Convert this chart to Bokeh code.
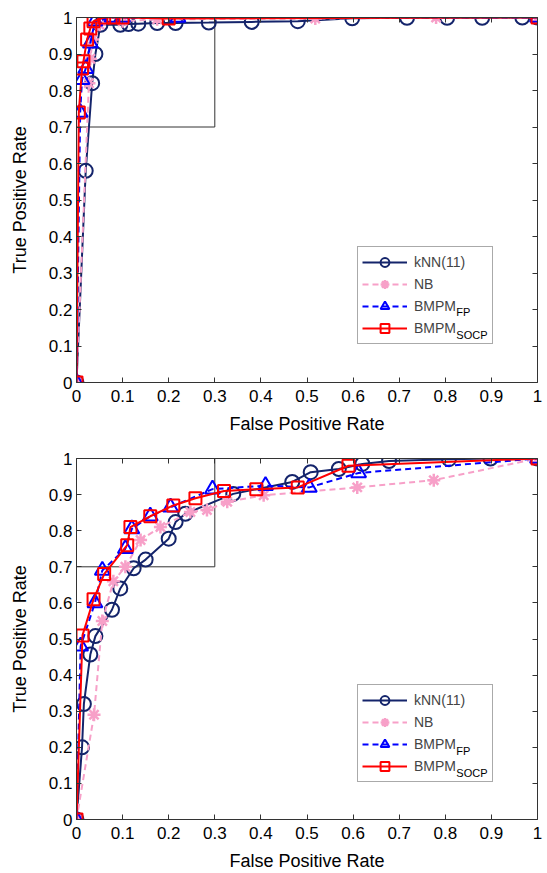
from bokeh.plotting import figure
from bokeh.models import (Range1d, FixedTicker, LinearAxis, Legend, LegendItem,
                          BoxAnnotation, Label)
from bokeh.layouts import column
from bokeh.embed import file_html
from bokeh.resources import INLINE

# ---------------- data ----------------
tick_vals = [0, 0.1, 0.2, 0.3, 0.4, 0.5, 0.6, 0.7, 0.8, 0.9, 1.0]
tick_labels = ["0", "0.1", "0.2", "0.3", "0.4", "0.5", "0.6", "0.7", "0.8", "0.9", "1"]

series_labels = ["kNN(11)", "NB", "BMPM", "BMPM"]
series_subscripts = ["", "", "FP", "SOCP"]
x_title = "False Positive Rate"
y_title = "True Positive Rate"
zoom_box = [0.0, 0.3, 0.7, 1.0]  # left, right, bottom, top

# top panel
knn1_x = [0, 0.02, 0.034, 0.041, 0.052, 0.095, 0.113, 0.134, 0.175, 0.215, 0.287, 0.38, 0.48,
          0.598, 0.717, 0.804, 0.88, 0.967, 1.0]
knn1_y = [0, 0.58, 0.82, 0.90, 0.98, 0.98, 0.982, 0.983, 0.985, 0.985, 0.986, 0.988, 0.99,
          0.998, 0.999, 0.999, 0.999, 1.0, 1.0]
nb1_x = [0, 0.027, 0.03, 0.035, 0.05, 0.1, 0.175, 0.518, 0.78, 1.0]
nb1_y = [0, 0.82, 0.887, 0.94, 0.98, 0.99, 0.995, 0.997, 1.0, 1.0]
fp1_x = [0, 0.008, 0.012, 0.02, 0.03, 0.04, 0.077, 0.1, 0.22, 1.0]
fp1_y = [0, 0.74, 0.83, 0.86, 0.93, 0.99, 1.0, 1.0, 1.0, 1.0]
socp1_x = [0, 0.005, 0.012, 0.015, 0.023, 0.03, 0.037, 0.06, 0.08, 0.1, 0.2, 1.0]
socp1_y = [0, 0.74, 0.86, 0.88, 0.94, 0.97, 0.99, 1.0, 1.0, 1.0, 0.997, 1.0]

# bottom panel
knn2_x = [0, 0.012, 0.016, 0.03, 0.041, 0.077, 0.095, 0.124, 0.15, 0.2, 0.215, 0.236, 0.34,
          0.468, 0.508, 0.569, 0.62, 0.678, 0.808, 0.898, 1.0]
knn2_y = [0, 0.2, 0.32, 0.457, 0.508, 0.581, 0.64, 0.696, 0.72, 0.778, 0.824, 0.847, 0.902,
          0.935, 0.962, 0.971, 0.985, 0.993, 0.998, 1.0, 1.0]
nb2_x = [0, 0.038, 0.056, 0.08, 0.106, 0.139, 0.182, 0.247, 0.283, 0.327, 0.406, 0.609, 0.775, 1.0]
nb2_y = [0, 0.29, 0.55, 0.66, 0.70, 0.774, 0.81, 0.852, 0.857, 0.88, 0.898, 0.92, 0.94, 1.0]
fp2_x = [0, 0.009, 0.04, 0.056, 0.106, 0.12, 0.16, 0.204, 0.295, 0.41, 0.505, 0.612, 1.0]
fp2_y = [0, 0.48, 0.60, 0.69, 0.75, 0.805, 0.84, 0.865, 0.915, 0.925, 0.92, 0.96, 1.0]
socp2_x = [0, 0.013, 0.037, 0.06, 0.11, 0.117, 0.16, 0.21, 0.258, 0.32, 0.39, 0.48, 0.59, 1.0]
socp2_y = [0, 0.51, 0.61, 0.68, 0.76, 0.81, 0.84, 0.87, 0.89, 0.91, 0.915, 0.92, 0.98, 1.0]

# ---------------- styles ----------------
FONT = "Liberation Sans"
AX_COLOR = "#333333"
styles = [
    dict(color="#14246b", dash="solid", marker="circle", size=14, lw=2),
    dict(color="#f7a0c8", dash="6 4", marker="asterisk", size=13, lw=2.5),
    dict(color="#0000ff", dash="6 4", marker="triangle", size=15, lw=2),
    dict(color="#ff0000", dash="solid", marker="square", size=12, lw=2),
]


def style_axis(ax, show_labels):
    ax.ticker = FixedTicker(ticks=tick_vals)
    ax.major_label_overrides = {v: t for v, t in zip(tick_vals, tick_labels)}
    ax.major_tick_in = 5
    ax.major_tick_out = 0
    ax.minor_tick_line_color = None
    ax.axis_line_color = AX_COLOR
    ax.major_tick_line_color = AX_COLOR
    ax.major_label_text_font = FONT
    if show_labels:
        ax.major_label_text_color = "black"
        ax.major_label_text_font_size = "17px"
    else:
        ax.major_label_text_color = None
        ax.major_label_text_font_size = "1px"
        ax.major_label_standoff = 0


def make_panel(height, b_top, b_bottom, data, legend_vy, sub_pos):
    p = figure(width=547, height=height, x_range=Range1d(0, 1), y_range=Range1d(0, 1),
               output_backend="svg", toolbar_location=None,
               min_border_left=76, min_border_right=10,
               min_border_top=b_top, min_border_bottom=b_bottom)
    p.grid.visible = False
    p.outline_line_color = None
    p.background_fill_color = "white"
    p.border_fill_color = "white"

    for ax in (p.xaxis[0], p.yaxis[0]):
        style_axis(ax, True)
        ax.axis_label_text_font = FONT
        ax.axis_label_text_font_size = "18px"
        ax.axis_label_text_font_style = "normal"
        ax.axis_label_text_color = "black"
    p.xaxis.axis_label = x_title
    p.yaxis.axis_label = y_title
    p.xaxis.major_label_standoff = 7
    p.yaxis.major_label_standoff = 4
    p.xaxis.axis_label_standoff = 9
    p.yaxis.axis_label_standoff = 16

    top_ax = LinearAxis()
    right_ax = LinearAxis()
    style_axis(top_ax, False)
    style_axis(right_ax, False)
    p.add_layout(top_ax, "above")
    p.add_layout(right_ax, "right")

    box = BoxAnnotation(left=zoom_box[0], right=zoom_box[1], bottom=zoom_box[2], top=zoom_box[3],
                        fill_color=None, fill_alpha=0, line_color="#333333", line_alpha=1.0,
                        line_width=1, level="underlay")
    p.add_layout(box)

    items = []
    for (xs, ys), st, lab in zip(data, styles, series_labels):
        r_line = p.line(xs, ys, line_color=st["color"], line_width=2, line_dash=st["dash"])
        r_mark = p.scatter(xs, ys, marker=st["marker"], size=st["size"], line_color=st["color"],
                           fill_color=None, line_width=st["lw"])
        items.append(LegendItem(label=lab, renderers=[r_line, r_mark]))

    legend = Legend(items=items, location=(281, legend_vy), orientation="vertical",
                    label_text_font=FONT, label_text_font_size="14px",
                    glyph_width=45, glyph_height=22, label_height=22, label_standoff=7,
                    label_width=74, padding=4, spacing=0, margin=0,
                    border_line_color="#555555", border_line_width=1,
                    background_fill_color=None, background_fill_alpha=0.0)
    p.add_layout(legend)

    for sub, (sx, sy) in zip([s for s in series_subscripts if s], sub_pos):
        p.add_layout(Label(x=sx, y=sy, text=sub,
                           text_font=FONT, text_font_size="11px", text_baseline="middle",
                           text_align="left", text_color="black"))
    return p


p1 = make_panel(450, 17, 68,
                [(knn1_x, knn1_y), (nb1_x, nb1_y), (fp1_x, fp1_y), (socp1_x, socp1_y)],
                38, [(0.824, 0.192), (0.824, 0.1315)])
p2 = make_panel(423, 8, 52,
                [(knn2_x, knn2_y), (nb2_x, nb2_y), (fp2_x, fp2_y), (socp2_x, socp2_y)],
                37, [(0.824, 0.19), (0.824, 0.129)])

layout = column(p1, p2)
open("out.html", "w").write(file_html(layout, INLINE))
